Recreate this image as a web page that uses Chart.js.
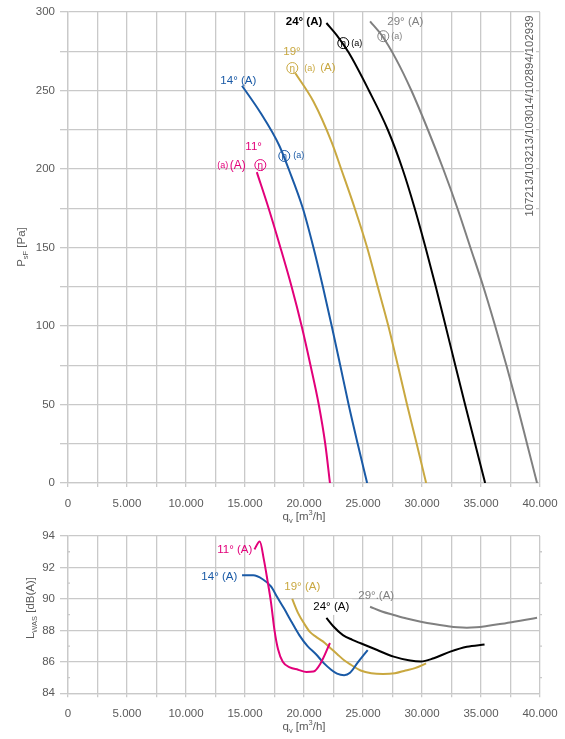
<!DOCTYPE html>
<html>
<head>
<meta charset="utf-8">
<script src="https://cdn.jsdelivr.net/npm/chart.js@4.4.1/dist/chart.umd.min.js"></script>
<style>
  body { margin: 0; background: #fff; }
  #top { position: absolute; left: 0; top: 0; }
  #bot { position: absolute; left: 0; top: 524px; }
</style>
</head>
<body>
<canvas id="top" width="565" height="524"></canvas>
<canvas id="bot" width="565" height="215"></canvas>
<script>
// pressure curves, q_v in m3/h, P_sF in Pa
const flowP11 = [16000, 17000, 18000, 18950, 19800, 20550, 21250, 21800, 22200];
const presP11 = [198, 175, 150, 125, 100, 75, 50, 25, 0];
const flowP14 = [14750, 16300, 17900, 18700, 19900, 20800, 21600, 22350, 23070, 23780, 24550, 25350];
const presP14 = [253, 236, 215, 200, 175, 150, 125, 100, 75, 50, 25, 0];
const flowP19 = [19270, 20800, 22350, 23150, 24300, 25350, 26250, 27150, 27950, 28730, 29550, 30350];
const presP19 = [261, 243, 217, 200, 175, 150, 125, 100, 75, 50, 25, 0];
const flowP24 = [21900, 22800, 23800, 25500, 27100, 28350, 29380, 30300, 31170, 32000, 32820, 33650, 34500, 35350];
const presP24 = [293, 285, 274, 250, 225, 200, 175, 150, 125, 100, 75, 50, 25, 0];
const flowP29 = [25600, 26600, 27800, 29100, 30500, 31800, 33000, 34100, 35200, 36200, 37150, 38050, 38900, 39750];
const presP29 = [294, 285, 270, 250, 225, 200, 175, 150, 125, 100, 75, 50, 25, 0];

// sound power curves, L_WAS in dB(A)
const flowL11 = [15800, 16250, 16600, 16900, 17200, 17500, 17800, 18200, 18800, 19500, 20200, 20800, 21400, 22200];
const lvlL11 = [93.15, 93.65, 92.5, 91.2, 89.8, 88.0, 86.8, 86.0, 85.65, 85.5, 85.35, 85.38, 85.9, 87.2];
const flowL14 = [14750, 15700, 16500, 17200, 17700, 18300, 18900, 19600, 20300, 21000, 21700, 22300, 22800, 23400, 23900, 24500, 25400];
const lvlL14 = [91.5, 91.5, 91.25, 90.8, 90.15, 89.4, 88.6, 87.7, 87.0, 86.5, 85.9, 85.5, 85.25, 85.15, 85.3, 85.9, 86.75];
const flowL19 = [19000, 19500, 20000, 20500, 21000, 21600, 22200, 22800, 23400, 24000, 24800, 25700, 26700, 27700, 28600, 29400, 30350];
const lvlL19 = [90.0, 89.1, 88.45, 87.9, 87.6, 87.3, 86.9, 86.5, 86.1, 85.8, 85.45, 85.27, 85.22, 85.27, 85.45, 85.6, 85.9];
const flowL24 = [21900, 22500, 23300, 24100, 24800, 26200, 27600, 29000, 29900, 31000, 32400, 33800, 35300];
const lvlL24 = [88.8, 88.25, 87.7, 87.4, 87.18, 86.75, 86.33, 86.08, 86.02, 86.23, 86.65, 86.96, 87.1];
const flowL29 = [25600, 26600, 27600, 28700, 29900, 31000, 32100, 33000, 33800, 34600, 35500, 36600, 37800, 38800, 39750];
const lvlL29 = [89.5, 89.2, 88.98, 88.75, 88.55, 88.4, 88.28, 88.2, 88.17, 88.2, 88.28, 88.4, 88.55, 88.68, 88.8];

const bladeAngles = ['11°', '14°', '19°', '24°', '29°'];
const curveColors = ['#e2007a', '#1a5aa6', '#c9a840', '#000000', '#808080'];
const docNumber = '107213/103213/103014/102894/102939';

const FONT = '"Liberation Sans", Arial, sans-serif';
const GRID = '#c9c9c9';
const TEXT = '#5a5a5a';

function pts(xs, ys) { return xs.map((x, i) => ({ x: x, y: ys[i] })); }
function fmtFlow(v) { return v === 0 ? '0' : (v / 1000) + '.000'; }

function makeSets(pairs) {
  return pairs.map((p, i) => ({
    label: bladeAngles[i],
    data: pts(p[0], p[1]),
    borderColor: curveColors[i],
    borderWidth: 2,
    pointRadius: 0,
    showLine: true,
    cubicInterpolationMode: 'monotone',
    fill: false
  }));
}

// text with sub/superscripts
function richText(ctx, parts, cx, cy, size, color, rotate) {
  ctx.save();
  ctx.translate(cx, cy);
  if (rotate) ctx.rotate(-Math.PI / 2);
  ctx.fillStyle = color;
  ctx.textBaseline = 'middle';
  let w = 0;
  parts.forEach(p => {
    ctx.font = (p.s ? size * 0.65 : size) + 'px ' + FONT;
    w += ctx.measureText(p.t).width;
  });
  let x = -w / 2;
  parts.forEach(p => {
    ctx.font = (p.s ? size * 0.65 : size) + 'px ' + FONT;
    const dy = p.s === 'sub' ? size * 0.3 : (p.s === 'sup' ? -size * 0.35 : 0);
    ctx.textAlign = 'left';
    ctx.fillText(p.t, x, dy);
    x += ctx.measureText(p.t).width;
  });
  ctx.restore();
}

function eta(ctx, x, y, color) {
  ctx.save();
  ctx.strokeStyle = color;
  ctx.lineWidth = 1;
  ctx.beginPath();
  ctx.arc(x, y, 5.5, 0, Math.PI * 2);
  ctx.stroke();
  ctx.fillStyle = color;
  ctx.font = '10px ' + FONT;
  ctx.textAlign = 'center';
  ctx.textBaseline = 'middle';
  ctx.fillText('η', x, y + 1);
  ctx.restore();
}

// annotation items placed at data coordinates: [type, x, y, text, colorIndex, size, align, weight, whiteBox]
const topNotes = [
  ['txt', 21550, 293.5, '24° (A)', 3, 11.5, 'right', 'bold'],
  ['eta', 23330, 280.2, '', 3],
  ['txt', 24000, 280, '(a)', 3, 9],
  ['txt', 27060, 294, '29° (A)', 4, 11.5],
  ['eta', 26720, 284.6, '', 4],
  ['txt', 27400, 284.6, '(a)', 4, 9],
  ['txt', 18240, 274.4, '19°', 2, 11.5],
  ['eta', 19010, 264.3, '', 2],
  ['txt', 20025, 264.3, '(a)', 2, 9],
  ['txt', 21380, 264.3, '(A)', 2, 11.5],
  ['txt', 12910, 256.4, '14° (A)', 1, 11.5],
  ['eta', 18330, 208.3, '', 1],
  ['txt', 19090, 208.3, '(a)', 1, 9],
  ['txt', 15030, 214, '11°', 0, 11.5],
  ['txt', 12650, 202, '(a)', 0, 9],
  ['txt', 13710, 202, '(A)', 0, 12],
  ['eta', 16300, 202.5, '', 0]
];
const botNotes = [
  ['txt', 12650, 93.11, '11° (A)', 0, 11.5],
  ['txt', 11300, 91.39, '14° (A)', 1, 11.5],
  ['txt', 18330, 90.76, '19° (A)', 2, 11.5],
  ['txt', 24600, 90.19, '29°.(A)', 4, 11.5],
  ['txt', 20790, 89.49, '24° (A)', 3, 11.5, 'left', '', true]
];

function notesPlugin(notes) {
  return {
    id: 'notes',
    afterDatasetsDraw(chart) {
      const ctx = chart.ctx, xs = chart.scales.x, ys = chart.scales.y;
      notes.forEach(n => {
        const px = xs.getPixelForValue(n[1]);
        const py = ys.getPixelForValue(n[2]);
        const col = curveColors[n[4]];
        if (n[0] === 'eta') { eta(ctx, px, py, col); return; }
        ctx.save();
        ctx.font = (n[7] || '') + ' ' + n[5] + 'px ' + FONT;
        ctx.textAlign = n[6] || 'left';
        ctx.textBaseline = 'middle';
        if (n[8]) {
          const w = ctx.measureText(n[3]).width;
          ctx.fillStyle = '#fff';
          ctx.fillRect(px - 3, py - 8, w + 6, 16);
        }
        ctx.fillStyle = col;
        ctx.fillText(n[3], px, py);
        ctx.restore();
      });
    }
  };
}

function axisOpts(min, max, step, labelEvery, yAxis) {
  return {
    type: 'linear',
    min: min, max: max,
    border: { color: GRID, width: 1.3 },
    grid: { color: GRID, lineWidth: 1.3, tickLength: yAxis ? 8 : 4, drawTicks: true },
    ticks: {
      stepSize: step,
      autoSkip: false,
      maxRotation: 0,
      padding: yAxis ? 5 : 10,
      color: TEXT,
      font: { family: FONT, size: 11.5 },
      callback: v => (Math.abs(v % labelEvery) < 1e-6) ? (yAxis ? String(v) : fmtFlow(v)) : ''
    }
  };
}

function fixX(h) {
  return s => { s.height = h; s.paddingLeft = 0; s.paddingRight = 0; };
}
function fixY(s) { s.width = 68; s.paddingTop = 0; s.paddingBottom = 0; }

const flowTitle = [{ t: 'q' }, { t: 'v', s: 'sub' }, { t: ' [m' }, { t: '3', s: 'sup' }, { t: '/h]' }];

// top chart: pressure
const topX = axisOpts(0, 40000, 2500, 5000, false);
topX.afterFit = fixX(41);
const topY = axisOpts(0, 300, 25, 50, true);
topY.afterFit = fixY;

new Chart(document.getElementById('top'), {
  type: 'scatter',
  data: {
    datasets: makeSets([[flowP11, presP11], [flowP14, presP14], [flowP19, presP19], [flowP24, presP24], [flowP29, presP29]])
  },
  options: {
    responsive: false,
    animation: false,
    layout: { padding: { top: 12, right: 25, left: 0, bottom: 0 } },
    plugins: { legend: { display: false }, tooltip: { enabled: false } },
    scales: { x: topX, y: topY }
  },
  plugins: [notesPlugin(topNotes), {
    id: 'titlesTop',
    afterDraw(chart) {
      const ctx = chart.ctx;
      richText(ctx, [{ t: 'P' }, { t: 'sF', s: 'sub' }, { t: ' [Pa]' }], 22, 247, 11.5, TEXT, true);
      richText(ctx, flowTitle, 304, 517, 11.5, TEXT, false);
      // document number, rotated, on white
      ctx.save();
      ctx.translate(530, 116);
      ctx.rotate(-Math.PI / 2);
      ctx.font = '11.3px ' + FONT;
      const w = ctx.measureText(docNumber).width;
      ctx.fillStyle = '#fff';
      ctx.fillRect(-w / 2 - 2, -6, w + 4, 12);
      ctx.fillStyle = TEXT;
      ctx.textAlign = 'center';
      ctx.textBaseline = 'middle';
      ctx.fillText(docNumber, 0, 0);
      ctx.restore();
    }
  }]
});

// bottom chart: sound power
const botX = axisOpts(0, 40000, 2500, 5000, false);
botX.afterFit = fixX(45.7);
const botY = axisOpts(84, 94, 2, 2, true);
botY.afterFit = fixY;

new Chart(document.getElementById('bot'), {
  type: 'scatter',
  data: {
    datasets: makeSets([[flowL11, lvlL11], [flowL14, lvlL14], [flowL19, lvlL19], [flowL24, lvlL24], [flowL29, lvlL29]])
  },
  options: {
    responsive: false,
    animation: false,
    layout: { padding: { top: 12, right: 25, left: 0, bottom: 0 } },
    plugins: { legend: { display: false }, tooltip: { enabled: false } },
    scales: { x: botX, y: botY }
  },
  plugins: [notesPlugin(botNotes), {
    id: 'titlesBot',
    afterDraw(chart) {
      const ctx = chart.ctx, ys = chart.scales.y, a = chart.chartArea;
      // small minor marks at odd dB values
      ctx.save();
      ctx.strokeStyle = GRID;
      ctx.lineWidth = 1.3;
      for (let v = 85; v < 94; v += 2) {
        const py = ys.getPixelForValue(v);
        ctx.beginPath();
        ctx.moveTo(a.left - 1, py); ctx.lineTo(a.left + 2, py);
        ctx.moveTo(a.right - 1, py); ctx.lineTo(a.right + 2, py);
        ctx.stroke();
      }
      ctx.restore();
      richText(ctx, [{ t: 'L' }, { t: 'WAS', s: 'sub' }, { t: ' [dB(A)]' }], 31, 84, 11.5, TEXT, true);
      richText(ctx, flowTitle, 304, 203, 11.5, TEXT, false);
    }
  }]
});
</script>
</body>
</html>
